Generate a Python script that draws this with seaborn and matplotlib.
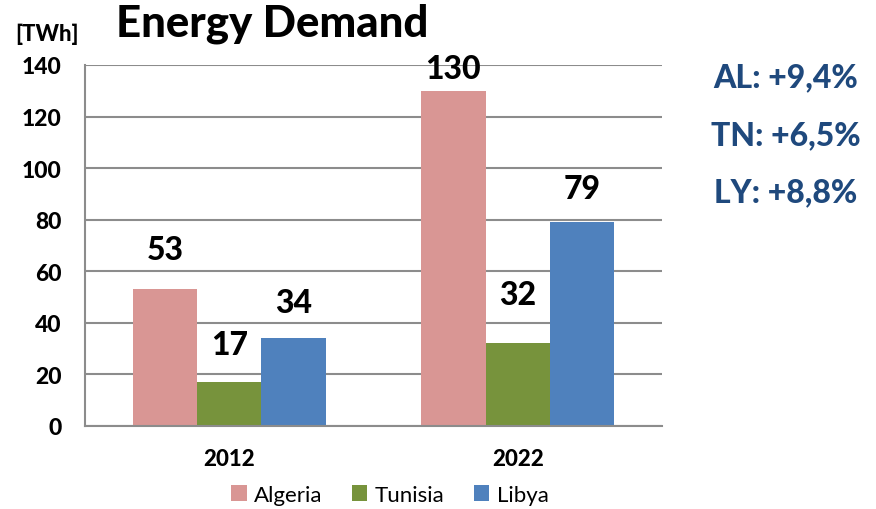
import matplotlib
matplotlib.use("Agg")
import matplotlib.pyplot as plt
import seaborn as sns
import pandas as pd

years = ["2012", "2022"]
countries = ["Algeria", "Tunisia", "Libya"]
algeria = [53, 130]
tunisia = [17, 32]
libya = [34, 79]
growth = ["AL: +9,4%", "TN: +6,5%", "LY: +8,8%"]

colors = ["#D99694", "#77933C", "#4F81BD"]
# gap between bar top and label, in pixels (excel puts them a bit unevenly)
label_gap = {"Algeria": [25, 8], "Tunisia": [23, 34], "Libya": [21, 19]}

df = pd.DataFrame({
    "year": years * 3,
    "country": ["Algeria"] * 2 + ["Tunisia"] * 2 + ["Libya"] * 2,
    "value": algeria + tunisia + libya,
})

sns.set_style("white")
plt.rcParams["font.family"] = ["Lato", "DejaVu Sans"]
plt.rcParams["text.color"] = "black"
plt.rcParams["xtick.labelcolor"] = "black"
plt.rcParams["ytick.labelcolor"] = "black"
W = "black"

fig = plt.figure(figsize=(8.76, 5.10), dpi=100)
ax = fig.add_axes([85 / 876, 1 - 427 / 510, 577 / 876, 361 / 510])

sns.barplot(data=df, x="year", y="value", hue="country", hue_order=countries,
            palette=colors, width=0.67, gap=0, saturation=1, ax=ax,
            linewidth=0, legend=True)

ax.set_xlim(-0.5, 1.5)
ax.set_ylim(0, 140)
ax.set_yticks(range(0, 141, 20))
ax.yaxis.grid(True, color="#8c8c8c", linewidth=1.5)
ax.set_axisbelow(True)
for s in ["top", "right"]:
    ax.spines[s].set_visible(False)
for s in ["left", "bottom"]:
    ax.spines[s].set_color("#8c8c8c")
    ax.spines[s].set_linewidth(1.5)

ax.tick_params(axis="y", length=6, width=1.5, color="#8c8c8c", labelsize=16.5,
               pad=11, labelcolor="black")
ax.tick_params(axis="x", length=0, labelsize=16, pad=16, labelcolor="black")
for lab in ax.get_yticklabels() + ax.get_xticklabels():
    lab.set_fontweight(W)
# category boundary ticks
ax.set_xticks([-0.5, 0.5, 1.5], minor=True)
ax.tick_params(axis="x", which="minor", length=7, width=1.5, color="#8c8c8c")
ax.set_xlabel("")
ax.set_ylabel("")

for cont, name in zip(ax.containers, countries):
    for bar, gap in zip(cont, label_gap[name]):
        h = bar.get_height()
        ax.annotate(f"{h:.0f}", (bar.get_x() + bar.get_width() / 2, h),
                    xytext=(0, gap * 0.72), textcoords="offset points",
                    ha="center", va="bottom", fontsize=23, fontweight=W,
                    color="black")

leg = ax.legend(loc="center", bbox_to_anchor=(305 / 577, -0.19), ncol=3,
                frameon=False, fontsize=16, handlelength=0.7, handleheight=0.7,
                handletextpad=0.35, columnspacing=1.3)
for t in leg.get_texts():
    t.set_color("black")

fig.text(272 / 876, 1 - 24 / 510, "Energy Demand", ha="center", va="center",
         fontsize=31.5, fontweight=W, color="black")
fig.text(47 / 876, 1 - 34 / 510, "[TWh]", ha="center", va="center",
         fontsize=16, fontweight=W, color="black")
for i, g in enumerate(growth):
    fig.text(786 / 876, 1 - (78 + i * 57.5) / 510, g, ha="center", va="center",
             fontsize=23, fontweight=W, color="#1F497D")

fig.savefig("out.png", dpi=100)
